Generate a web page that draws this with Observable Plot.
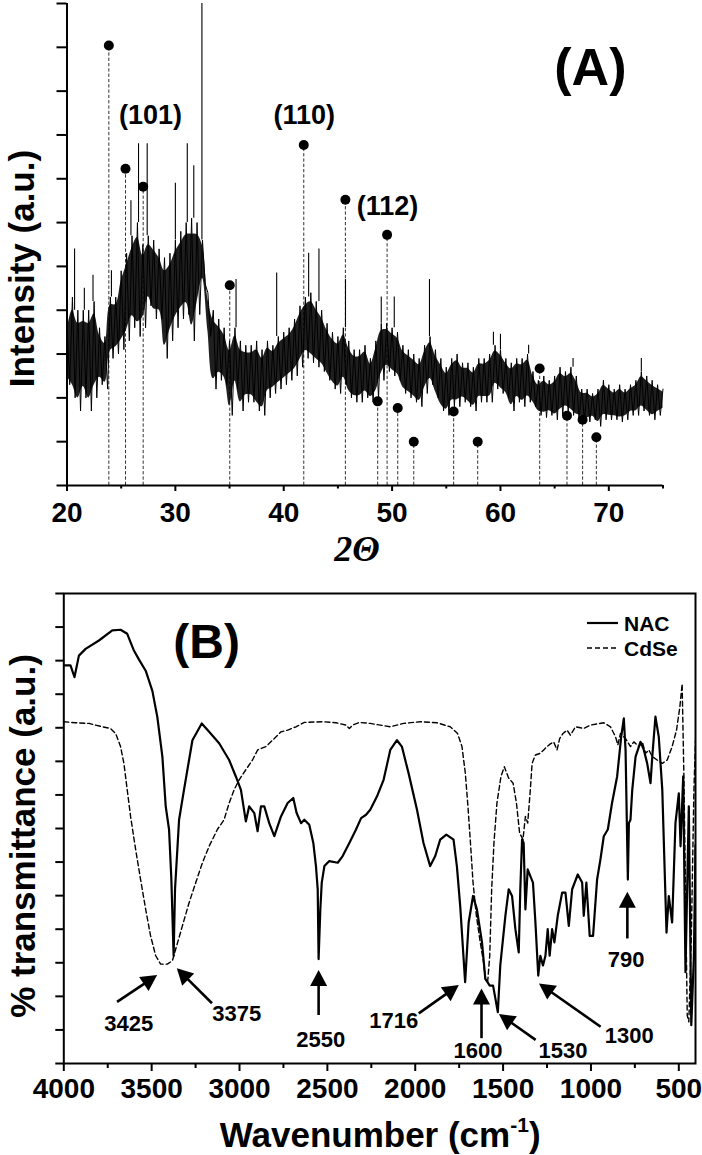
<!DOCTYPE html>
<html><head><meta charset="utf-8">
<script src="https://cdn.jsdelivr.net/npm/d3@7"></script>
<script src="https://cdn.jsdelivr.net/npm/@observablehq/plot@0.6"></script>
<style>
html,body{margin:0;padding:0;background:#fff;}
#chart{width:702px;height:1155px;overflow:hidden;background:#fff;}
#chart svg{display:block;}
</style></head><body><div id="chart"></div>
<script>
const FONT = "'Liberation Sans', Arial, Helvetica, sans-serif";

// ---------- Panel A : XRD ----------
const xrdX = d3.range(20, 75.001, 0.5);
// upper edge of the noisy band
const xrdHi = [
  3.7,4.3,4.0,4.0,4.0,4.2,3.6,3.4,4.3,4.3,
  4.9,5.3,5.7,6.0,5.5,5.7,5.6,5.4,5.2,5.3,
  5.6,5.8,6.0,6.1,6.0,5.6,4.4,4.0,3.8,3.6,
  3.3,3.6,3.3,3.2,3.2,3.3,3.1,3.3,3.2,3.4,
  3.5,3.6,3.8,4.1,4.3,4.4,4.2,4.0,3.7,3.5,
  3.4,3.6,3.3,3.1,3.1,3.2,2.9,3.3,3.7,3.7,
  3.6,3.5,3.2,3.1,3.0,2.9,3.2,3.4,3.1,2.9,
  2.7,2.9,3.0,2.8,2.8,2.7,2.9,2.9,3.0,3.2,
  3.1,2.9,2.8,2.9,2.9,3.0,2.6,2.4,2.5,2.4,
  2.5,2.7,2.6,2.7,2.5,2.2,2.2,2.1,2.2,2.4,
  2.3,2.2,2.3,2.2,2.3,2.4,2.6,2.5,2.4,2.3,
  2.2];
// lower edge of the noisy band
const xrdLo = [
  2.3,2.0,1.7,2.0,1.7,2.0,2.3,2.2,2.9,3.0,
  3.1,3.3,3.6,3.4,3.6,4.1,3.8,3.8,2.9,3.3,
  3.6,3.8,3.9,3.3,3.9,4.6,3.4,2.2,2.4,2.3,
  1.6,2.2,1.7,1.9,1.9,1.7,1.6,2.0,2.1,2.2,
  2.3,2.4,2.5,2.7,2.9,2.8,2.7,2.6,2.4,2.2,
  2.1,2.3,2.0,1.9,1.9,2.0,1.9,2.0,2.4,2.6,
  2.5,2.4,2.1,2.0,1.9,1.8,2.1,2.3,2.0,1.7,
  1.6,1.8,1.8,1.9,1.8,1.7,1.9,1.9,1.9,2.2,
  2.1,2.0,1.7,1.9,1.8,1.9,1.8,1.6,1.55,1.6,
  1.5,1.6,1.7,1.6,1.5,1.5,1.45,1.5,1.35,1.5,
  1.5,1.5,1.45,1.5,1.6,1.6,1.7,1.6,1.5,1.6,
  1.7];
// isolated narrow spikes above the band
const spikeX = [20.7,21.6,22.4,24.1,25.9,26.6,27.4,30.0,31.1,31.7,32.45,35.6,39.35,42.3,43.25,45.7,49.0,50.2,53.45,59.35,60.0,62.6,66.7,73.0];
const spikeTop = [5.4,4.5,4.8,4.9,6.5,7.8,7.8,6.9,7.8,7.3,11.0,4.7,4.85,5.3,5.4,4.7,4.3,4.3,4.7,3.5,3.45,3.2,2.9,2.9];
const spikeBase = [4.0,4.0,4.2,4.3,5.7,6.0,5.7,5.6,6.0,6.1,5.6,3.6,3.4,4.3,4.2,3.6,3.7,3.6,3.4,3.2,3.1,3.0,2.7,2.6];
// reference pattern positions (2θ) and heights
const refX = [23.86,25.4,27.03,35.02,41.85,45.69,49.54,48.67,50.52,52.0,55.68,57.9,63.62,66.14,67.58,68.85];
const refI = [10.04,7.23,6.82,4.57,7.77,6.52,5.72,1.92,1.77,1.0,1.69,1.0,2.67,1.59,1.5,1.1];
const hklText = ["(101)","(110)","(112)"];
const hklX = [27.7,41.9,49.57];
const hklY = [8.25,8.25,6.18];
const aMajor = [20,30,40,50,60,70];
const aMinor = [25,35,45,55,65,75];
const aYTicks = d3.range(0, 12);

// ---------- Panel B : FTIR ----------
const nacW = [4000,3962,3939,3914,3876,3800,3724,3677,3639,3601,
  3572,3534,3496,3468,3439,3420,3401,3388,3375,3367,
  3344,3316,3268,3215,3173,3116,3059,3021,2992,2964,
  2945,2916,2897,2878,2859,2831,2802,2764,2726,2694,
  2675,2650,2631,2603,2580,2565,2555,2550,2540,2532,
  2517,2489,2441,2413,2375,2337,2308,2280,2256,2218,
  2180,2142,2104,2076,2038,1990,1953,1915,1886,1858,
  1823,1782,1763,1744,1716,1696,1671,1649,1620,1601,
  1576,1557,1530,1516,1487,1468,1449,1430,1411,1402,
  1392,1383,1373,1360,1345,1330,1316,1300,1288,1273,
  1259,1246,1235,1221,1208,1189,1164,1145,1126,1107,
  1075,1050,1041,1026,1007,988,965,946,927,904,
  880,851,828,813,803,790,784,775,765,746,
  718,699,680,661,651,633,614,594,570,557,
  538,519,500,490,475,462,443,429,414,405];
const nacT = [11.86,11.86,11.51,12.15,12.35,12.6,12.9,12.92,12.8,12.3,
  12.03,11.7,11.1,10.33,9.14,7.66,6.97,5.5,3.21,5.19,
  7.26,8.15,9.63,10.13,9.88,9.54,9.04,8.55,8.15,7.21,
  7.66,7.46,6.92,7.66,7.66,7.16,6.77,7.36,7.76,7.91,
  7.46,7.16,7.26,7.11,6.57,5.88,5.19,3.11,4.6,5.39,
  5.88,6.03,5.98,6.18,6.57,6.97,7.31,7.41,7.56,7.95,
  8.45,9.34,9.63,9.44,8.65,7.56,6.57,5.88,6.18,6.67,
  6.82,6.67,5.88,4.69,2.42,4.2,4.99,4.59,3.61,2.52,
  2.32,2.32,1.53,2.92,4.4,5.19,4.99,4.0,3.31,5.19,
  6.67,6.57,4.59,5.78,5.58,5.39,4.2,2.62,3.21,2.92,
  3.21,4.0,3.21,4.0,3.61,4.4,5.09,5.09,4.1,5.19,
  5.63,5.39,4.4,5.39,3.8,3.8,5.48,6.08,6.77,6.97,
  7.76,8.55,9.73,10.28,9.34,5.48,7.16,7.26,8.15,9.14,
  9.58,9.34,8.94,8.35,9.14,10.33,9.73,8.15,3.9,4.99,
  4.2,7.16,8.05,6.47,8.55,2.72,7.66,1.14,3.21,6.5];
const cdseW = [4000,3934,3857,3781,3734,3705,3677,3658,3639,3620,
  3591,3563,3534,3506,3477,3449,3411,3382,3363,3325,
  3287,3249,3211,3173,3126,3088,3059,3031,3002,2964,
  2926,2897,2850,2802,2764,2726,2679,2631,2527,2451,
  2394,2375,2356,2318,2256,2199,2142,2066,1972,1877,
  1801,1759,1734,1715,1700,1687,1671,1652,1630,1611,
  1601,1588,1576,1565,1552,1535,1512,1493,1468,1443,
  1424,1406,1387,1373,1360,1345,1335,1316,1288,1269,
  1250,1231,1212,1193,1178,1159,1136,1117,1088,1041,
  1003,927,889,860,847,832,803,775,756,727,
  708,689,670,651,623,594,566,538,513,494,
  481,471,462,452,443,429,414,405];
const cdseT = [10.18,10.15,10.13,10.03,9.98,9.83,9.44,8.94,8.15,7.36,
  6.37,5.48,4.59,3.8,3.21,2.96,2.96,3.06,3.41,4.1,
  4.79,5.39,5.98,6.47,6.97,7.26,7.76,8.15,8.45,8.75,
  9.04,9.34,9.44,9.68,9.88,9.93,10.03,10.16,10.18,10.15,
  10.08,9.98,10.08,10.16,10.13,10.08,10.03,10.13,10.18,10.15,
  10.03,9.83,9.44,8.65,7.66,6.67,5.39,4.4,3.61,3.01,
  2.52,2.42,3.21,5.19,6.57,7.76,8.55,8.84,8.5,8.35,
  7.76,6.87,6.67,7.36,7.16,8.15,8.94,9.19,9.24,9.34,
  9.44,9.52,9.58,9.34,9.68,9.83,9.93,9.78,10.03,9.98,
  10.08,10.15,10.03,9.73,9.49,9.83,9.68,9.44,9.58,9.44,
  9.58,9.24,9.34,9.14,9.04,8.94,9.04,9.44,9.93,10.62,
  11.31,8.55,5.19,1.43,1.24,3.71,8.15,9.63];
// annotation arrows: tail (w1,t1) -> tip (w2,t2)
const annText = ["3425","3375","2550","1716","1600","1530","1300","790"];
const annLabelW = [3631,3016,2538,2122,1643,1159,782,800];
const annLabelT = [0.98,1.28,0.48,1.07,0.15,0.15,0.6,2.86];
const arrW1 = [3694,3154,2547,1977,1620,1312,942,790];
const arrT1 = [1.82,1.78,1.43,1.48,0.74,0.69,1.08,3.71];
const arrW2 = [3466,3354,2547,1749,1620,1521,1293,790];
const arrT2 = [2.62,2.82,2.77,2.32,2.22,1.46,2.37,5.1];
const bMajor = [4000,3500,3000,2500,2000,1500,1000,500];
const bMinor = [3750,3250,2750,2250,1750,1250,750];
const bYTicks = d3.range(0, 15);
const legendNames = ["NAC","CdSe"];

// ---------- build A ----------
// dense core of the band (inner part of the hi/lo envelope) drawn solid, jagged envelope drawn as a zig-zag line
const xrd = xrdX.map((x, i) => {
  const span = xrdHi[i] - xrdLo[i];
  return {x, top: xrdHi[i] - 0.13 * span, bot: xrdLo[i] + 0.13 * span};
});
const zig = xrdX.flatMap((x, i) => [{x, y: xrdHi[i]}, {x: x + 0.25, y: xrdLo[i]}]).filter(d => d.x <= 75);
const refs = refX.map((x, i) => ({x, v: refI[i]}));

const plotA = Plot.plot({
  width: 702, height: 570,
  marginLeft: 66.5, marginRight: 39.5, marginTop: 3, marginBottom: 85,
  x: {domain: [20, 75], axis: null},
  y: {domain: [0, 11], axis: null},
  style: {fontFamily: FONT, background: "#fff", overflow: "visible"},
  marks: [
    Plot.ruleX(refs, {x: "x", y1: 0, y2: "v", stroke: "#333", strokeWidth: 1, strokeDasharray: "3.3,2"}),
    Plot.areaY(xrd, {x: "x", y1: "bot", y2: "top", fill: "#000", fillOpacity: 0.88, curve: "catmull-rom"}),
    Plot.line(zig, {x: "x", y: "y", stroke: "#000", strokeWidth: 1}),
    Plot.ruleX(spikeX, {x: spikeX, y1: spikeBase, y2: spikeTop, stroke: "#000", strokeWidth: 1.1}),
    Plot.dot(refs, {x: "x", y: "v", r: 5, fill: "#000"}),
    Plot.ruleX([20], {stroke: "#000", strokeWidth: 2}),
    Plot.ruleY([0], {stroke: "#000", strokeWidth: 2}),
    Plot.axisX({ticks: aMajor, tickSize: 6, tickPadding: 11, fontSize: 28, fontWeight: "bold", label: null, strokeWidth: 2, tickFormat: d => String(d)}),
    Plot.axisX({ticks: aMinor, tickSize: 3.5, tickFormat: () => "", label: null, strokeWidth: 2}),
    Plot.axisY({ticks: aYTicks, tickSize: 10, tickFormat: () => "", label: null, strokeWidth: 2}),
    Plot.text(hklText, {x: hklX, y: hklY, text: hklText, fontSize: 27, fontWeight: "bold", lineAnchor: "bottom", fill: "#000"}),
    Plot.text(["(A)"], {x: [68.3], y: [9.15], text: ["(A)"], fontSize: 52, fontWeight: "bold", lineAnchor: "bottom", fill: "#000"}),
    Plot.text(["Intensity (a.u.)"], {frameAnchor: "left", textAnchor: "middle", rotate: -90, dx: -44.5, dy: 24, fontSize: 35, fontWeight: "bold", fill: "#000"}),
    Plot.text(["2Θ"], {frameAnchor: "bottom", textAnchor: "middle", dx: -8, dy: 75, lineAnchor: "bottom", fontSize: 36, fontWeight: "bold", fontStyle: "italic", fontFamily: "'Liberation Serif','Times New Roman',serif", fill: "#000"})
  ]
});

// ---------- build B ----------
const nac = nacW.map((w, i) => ({w, t: nacT[i]}));
const cdse = cdseW.map((w, i) => ({w, t: cdseT[i]}));

const arrowsMark = (index, scales) => {
  const g = d3.create("svg:g");
  arrW1.forEach((w1, i) => {
    const x1 = scales.x(w1), y1 = scales.y(arrT1[i]);
    const x2 = scales.x(arrW2[i]), y2 = scales.y(arrT2[i]);
    const L = Math.hypot(x2 - x1, y2 - y1), ux = (x2 - x1) / L, uy = (y2 - y1) / L;
    const hl = 16, hw = 8.5;
    const bx = x2 - ux * hl, by = y2 - uy * hl;
    g.append("line").attr("x1", x1).attr("y1", y1).attr("x2", bx + ux * 2).attr("y2", by + uy * 2)
      .attr("stroke", "#000").attr("stroke-width", 2.6);
    g.append("path").attr("d", `M${x2},${y2}L${bx - uy * hw},${by + ux * hw}L${bx + uy * hw},${by - ux * hw}Z`).attr("fill", "#000");
  });
  return g.node();
};

const legendMark = (index, scales, values, dims) => {
  const R = dims.width - dims.marginRight, T = dims.marginTop;
  const g = d3.create("svg:g").attr("font-family", FONT).attr("font-weight", "bold").attr("font-size", 21).attr("text-anchor", "start");
  legendNames.forEach((name, i) => {
    const yy = T + 30 + i * 25;
    g.append("line").attr("x1", R - 108).attr("x2", R - 77).attr("y1", yy).attr("y2", yy)
      .attr("stroke", "#000").attr("stroke-width", i ? 1.4 : 2.2).attr("stroke-dasharray", i ? "5,3" : null);
    g.append("text").attr("x", R - 71).attr("y", yy).attr("dy", "0.36em").attr("text-anchor", "start").attr("fill", "#000").text(name);
  });
  return g.node();
};

const xTitleMark = (index, scales, values, dims) => {
  const cx = (dims.marginLeft + dims.width - dims.marginRight) / 2 + 1;
  const by = dims.height - dims.marginBottom + 84;
  const t = d3.create("svg:text").attr("x", cx).attr("y", by).attr("text-anchor", "middle")
    .attr("font-family", FONT).attr("font-weight", "bold").attr("font-size", 35).attr("fill", "#000");
  t.append("tspan").text("Wavenumber (cm");
  t.append("tspan").attr("font-size", 21).attr("dy", -15).text("-1");
  t.append("tspan").attr("dy", 15).text(")");
  return t.node();
};

const plotB = Plot.plot({
  width: 702, height: 585,
  marginLeft: 63.3, marginRight: 7, marginTop: 23, marginBottom: 92,
  x: {domain: [4000, 405], axis: null},
  y: {domain: [0, 14], axis: null},
  style: {fontFamily: FONT, background: "#fff", overflow: "visible"},
  marks: [
    Plot.line(cdse, {x: "w", y: "t", stroke: "#000", strokeWidth: 1.4, strokeDasharray: "5,3", clip: true}),
    Plot.line(nac, {x: "w", y: "t", stroke: "#000", strokeWidth: 2.2, strokeLinejoin: "round", clip: true}),
    Plot.frame({stroke: "#000", strokeWidth: 2}),
    Plot.axisX({ticks: bMajor, tickSize: 8, tickPadding: 7, fontSize: 28, fontWeight: "bold", label: null, strokeWidth: 2, tickFormat: d => String(d)}),
    Plot.axisX({ticks: bMinor, tickSize: 5, tickFormat: () => "", label: null, strokeWidth: 2}),
    Plot.axisY({ticks: bYTicks, tickSize: 8, tickFormat: () => "", label: null, strokeWidth: 2}),
    arrowsMark,
    Plot.text(annText, {x: annLabelW, y: annLabelT, text: annText, fontSize: 22, fontWeight: "bold", lineAnchor: "bottom", fill: "#000"}),
    Plot.text(["(B)"], {x: [3187], y: [12.09], text: ["(B)"], fontSize: 48, fontWeight: "bold", lineAnchor: "bottom", fill: "#000"}),
    legendMark,
    Plot.text(["% transmittance (a.u.)"], {frameAnchor: "left", textAnchor: "middle", rotate: -90, dx: -40, dy: 7.5, fontSize: 35, fontWeight: "bold", fill: "#000"}),
    xTitleMark
  ]
});

const chart = document.getElementById("chart");
chart.appendChild(plotA);
chart.appendChild(plotB);
</script></body></html>
